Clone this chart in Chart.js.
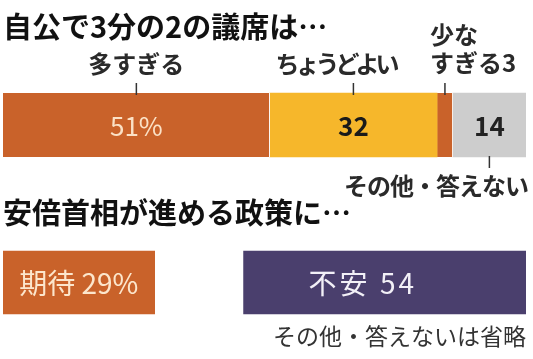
<!DOCTYPE html>
<html>
<head>
<meta charset="utf-8">
<script src="https://cdn.jsdelivr.net/npm/chart.js@4/dist/chart.umd.min.js"></script>
<style>
  html, body { margin: 0; padding: 0; background: #fff; }
  #wrap { width: 533px; height: 359px; position: relative; }
</style>
</head>
<body>
<div id="wrap"><canvas id="c"></canvas></div>
<script>
// 行（上段・空き・下段）
const rows = ['自公で3分の2の議席は…', '', '安倍首相が進める政策に…'];

// 上段：3分の2の議席
const seatLabels = ['多すぎる', 'ちょうどよい', '少なすぎる', 'その他・答えない'];
const seatValues = [51, 32, 3, 14];
const seatColors = ['#C9622A', '#F6B72B', '#C9622A', '#CDCDCD'];

// 下段：政策への期待・不安（その他は空白）
const policyLabels = ['期待', 'その他・答えない', '不安'];
const policyValues = [29, 17, 54];
const policyColors = ['#C9622A', 'rgba(0,0,0,0)', '#4A3F6D'];

const FONT = '"Noto Sans CJK JP", "Noto Sans", sans-serif';
const f = (size, weight) => `${weight || 'normal'} ${size}px ${FONT}`;

const datasets = [
  ...seatValues.map((v, i) => ({
    label: seatLabels[i], data: [v, null, null], backgroundColor: seatColors[i],
    borderColor: '#fff', borderWidth: { right: i === 0 || i === 2 ? 1 : 0 }, borderSkipped: false,
    barThickness: 64
  })),
  ...policyValues.map((v, i) => ({
    label: policyLabels[i], data: [null, null, v], backgroundColor: policyColors[i],
    borderWidth: 0, barThickness: 63
  }))
];

// 文字・引き出し線
const labelPlugin = {
  id: 'labels',
  afterDraw(chart) {
    const ctx = chart.ctx;
    const xs = chart.scales.x, ys = chart.scales.y;
    const y0 = ys.getPixelForValue(0), y2 = ys.getPixelForValue(2);
    const half = 32;
    const mids = (vals) => { let acc = 0; return vals.map(v => { const m = xs.getPixelForValue(acc + v / 2); acc += v; return m; }); };
    const sc = mids(seatValues), pc = mids(policyValues);

    ctx.save();
    ctx.textBaseline = 'middle';

    // 見出し
    ctx.fillStyle = '#111';
    ctx.font = f(29, 'bold');
    ctx.textAlign = 'left';
    ctx.fillText(rows[0], 3, y0 - 98);
    ctx.fillText(rows[2], 3, y2 - 70);

    // 引き出し線
    ctx.strokeStyle = '#333';
    ctx.lineWidth = 1.5;
    [[sc[0], y0 - half - 10, y0 - half + 2], [sc[1], y0 - half - 10, y0 - half + 2],
     [sc[2], y0 - half - 10, y0 - half + 2], [sc[3], y0 + half - 1, y0 + half + 11]].forEach(([x, a, b]) => {
      ctx.beginPath(); ctx.moveTo(x, a); ctx.lineTo(x, b); ctx.stroke();
    });

    // 項目名
    ctx.fillStyle = '#2A2A2A';
    ctx.font = f(24, 'bold');
    ctx.textAlign = 'center';
    ctx.fillText(seatLabels[0], sc[0], y0 - 61);
    ctx.letterSpacing = '-4px';
    ctx.fillText(seatLabels[1], sc[1] - 18, y0 - 61);
    ctx.letterSpacing = '0px';
    ctx.textAlign = 'left';
    ctx.fillText('少な', sc[2] - 15, y0 - 90);
    ctx.fillText('すぎる' + seatValues[2], sc[2] - 15, y0 - 62);
    ctx.textAlign = 'right';
    ctx.letterSpacing = '-1px';
    ctx.fillText(seatLabels[3], xs.right + 2, y0 + 61);
    ctx.letterSpacing = '0px';

    // 数値
    ctx.textAlign = 'center';
    ctx.font = f(26);
    ctx.fillStyle = '#FBE1C6';
    ctx.fillText(seatValues[0] + '%', sc[0], y0 + 1);
    ctx.font = f(26, 'bold');
    ctx.fillStyle = '#1A1A1A';
    ctx.fillText(String(seatValues[1]), sc[1], y0 + 1);
    ctx.fillStyle = '#222';
    ctx.fillText(String(seatValues[3]), sc[3], y0 + 1);

    // 下段
    ctx.font = f(28);
    ctx.fillStyle = '#FCE6CC';
    ctx.fillText(policyLabels[0] + ' ' + policyValues[0] + '%', pc[0], y2 + 1);
    ctx.fillStyle = '#F2F0F7';
    ctx.letterSpacing = '3px';
    ctx.fillText(policyLabels[2] + ' ' + policyValues[2], pc[2] - 22, y2 + 1);
    ctx.letterSpacing = '0px';

    ctx.fillStyle = '#333';
    ctx.font = f(23);
    ctx.textAlign = 'right';
    ctx.fillText('その他・答えないは省略', xs.right, y2 + 54);
    ctx.restore();
  }
};

new Chart(document.getElementById('c'), {
  type: 'bar',
  data: { labels: rows, datasets },
  plugins: [labelPlugin],
  options: {
    indexAxis: 'y',
    responsive: true,
    maintainAspectRatio: false,
    animation: false,
    layout: { padding: { left: 3, right: 7, top: 85.6, bottom: 37.1 } },
    plugins: { legend: { display: false }, tooltip: { enabled: false } },
    scales: {
      x: { stacked: true, min: 0, max: 100, display: false },
      y: { stacked: true, display: false }
    }
  }
});
</script>
</body>
</html>
